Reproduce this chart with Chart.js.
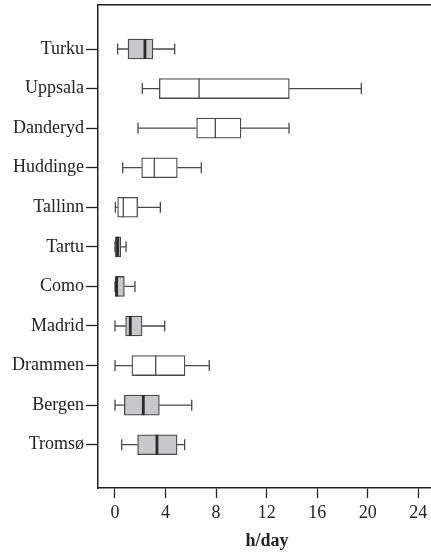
<!DOCTYPE html>
<html lang="en">
<head>
    <meta charset="UTF-8">
    <title>h/day box plot</title>
    <script src="https://cdn.jsdelivr.net/npm/chart.js"></script>
    <style>
        html, body { margin: 0; padding: 0; overflow: hidden; background: #fff; }
        #wrap { width: 436px; height: 553px; }
    </style>
</head>
<body>
    <div id="wrap"><canvas id="boxChart" width="436" height="553"></canvas></div>
    <script>
        // values (hours per day)
        const cities = ['Turku', 'Uppsala', 'Danderyd', 'Huddinge', 'Tallinn', 'Tartu', 'Como', 'Madrid', 'Drammen', 'Bergen', 'Tromsø'];
        const whiskLo = [0.21, 2.16, 1.82, 0.61, 0.03, 0.0, 0.0, 0.0, 0.0, 0.0, 0.53];
        const q1 = [1.03, 3.51, 6.46, 2.11, 0.21, 0.03, 0.0, 0.84, 1.34, 0.74, 1.79];
        const median = [2.37, 6.65, 7.94, 3.11, 0.66, 0.2, 0.13, 1.21, 3.22, 2.24, 3.32];
        const q3 = [3.0, 13.79, 9.97, 4.93, 1.79, 0.45, 0.74, 2.14, 5.54, 3.51, 4.91];
        const whiskHi = [4.72, 19.49, 13.77, 6.83, 3.59, 0.87, 1.58, 3.93, 7.46, 6.07, 5.51];
        const shaded = [true, false, false, false, false, true, true, true, false, true, true];
        const xTicks = [0, 4, 8, 12, 16, 20, 24];

        const GRAY = '#c8c8ca';
        const EDGE = '#4a4a4a';
        const AXIS = '#222';
        const serif = "'Liberation Serif', 'DejaVu Serif', serif";

        function noPad(s) {
            s.paddingTop = 0; s.paddingBottom = 0; s.paddingLeft = 0; s.paddingRight = 0;
        }

        // whiskers + caps under the boxes, medians on top
        const whiskerPlugin = {
            id: 'whiskers',
            beforeDatasetsDraw(chart) {
                const c = chart.ctx, xs = chart.scales.x, ys = chart.scales.y;
                c.save();
                c.strokeStyle = EDGE;
                c.lineWidth = 1.3;
                cities.forEach(function (name, i) {
                    const y = ys.getPixelForValue(i);
                    const lo = xs.getPixelForValue(whiskLo[i]);
                    const hi = xs.getPixelForValue(whiskHi[i]);
                    c.beginPath();
                    c.moveTo(lo, y); c.lineTo(xs.getPixelForValue(q1[i]), y);
                    c.moveTo(xs.getPixelForValue(q3[i]), y); c.lineTo(hi, y);
                    c.moveTo(lo, y - 5.5); c.lineTo(lo, y + 5.5);
                    c.moveTo(hi, y - 5.5); c.lineTo(hi, y + 5.5);
                    c.stroke();
                });
                c.restore();
            },
            afterDatasetsDraw(chart) {
                const c = chart.ctx, xs = chart.scales.x, ys = chart.scales.y;
                c.save();
                cities.forEach(function (name, i) {
                    const y = ys.getPixelForValue(i);
                    const m = xs.getPixelForValue(median[i]);
                    c.strokeStyle = shaded[i] ? '#2a2a2a' : EDGE;
                    c.lineWidth = shaded[i] ? 2.8 : 1.3;
                    c.beginPath();
                    c.moveTo(m, y - 10); c.lineTo(m, y + 10);
                    c.stroke();
                });
                c.restore();
            }
        };

        const ctx = document.getElementById('boxChart');
        const boxChart = new Chart(ctx, {
            type: 'bar',
            data: {
                datasets: [{
                    label: 'IQR',
                    data: cities.map(function (name, i) { return { y: i, x: [q1[i], q3[i]] }; }),
                    backgroundColor: shaded.map(function (s) { return s ? GRAY : '#fff'; }),
                    borderColor: EDGE,
                    borderWidth: 1.3,
                    borderSkipped: false,
                    barThickness: 20,
                    grouped: false
                }]
            },
            options: {
                indexAxis: 'y',
                responsive: false,
                devicePixelRatio: 1,
                animation: false,
                layout: { padding: 0 },
                plugins: { legend: { display: false }, tooltip: { enabled: false } },
                scales: {
                    x: {
                        type: 'linear',
                        min: -1.345,
                        max: 25.4,
                        afterBuildTicks: function (s) { s.ticks = xTicks.map(function (v) { return { value: v }; }); },
                        afterFit: function (s) { s.height = 65; noPad(s); },
                        grid: { drawOnChartArea: false, tickLength: 10, color: AXIS, tickWidth: 1.3 },
                        border: { color: AXIS, width: 1.5 },
                        ticks: { color: AXIS, padding: 4, font: { family: serif, size: 18 } },
                        title: {
                            display: true, text: 'h/day', color: AXIS,
                            padding: { top: 4, bottom: 1 },
                            font: { family: serif, size: 18, weight: 'bold' }
                        }
                    },
                    x2: {
                        type: 'linear', position: 'top', min: 0, max: 1,
                        afterFit: function (s) { s.height = 5; noPad(s); },
                        ticks: { display: false },
                        grid: { drawOnChartArea: false, drawTicks: false },
                        border: { color: AXIS, width: 1.5 }
                    },
                    y: {
                        type: 'linear',
                        reverse: true,
                        offset: false,
                        min: -1.112,
                        max: 11.094,
                        afterBuildTicks: function (s) { s.ticks = cities.map(function (n, i) { return { value: i }; }); },
                        afterFit: function (s) { s.width = 98; noPad(s); },
                        grid: { offset: false, drawOnChartArea: false, tickLength: 12, color: AXIS, tickWidth: 1.3 },
                        border: { color: AXIS, width: 1.5 },
                        ticks: {
                            color: AXIS, padding: 2,
                            font: { family: serif, size: 18 },
                            callback: function (v) { return cities[v]; }
                        }
                    }
                }
            },
            plugins: [whiskerPlugin]
        });
    </script>
</body>
</html>
